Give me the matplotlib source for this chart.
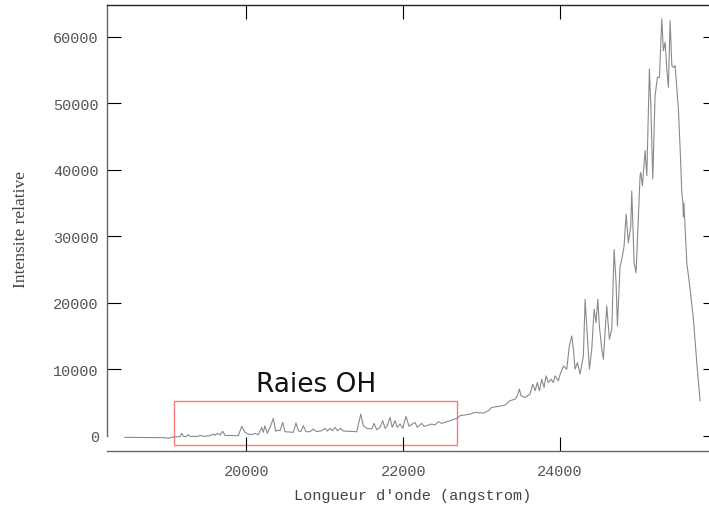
import matplotlib
matplotlib.use("Agg")
import matplotlib.pyplot as plt
from matplotlib.patches import Rectangle

# Wavelength (angstrom) and relative intensity
wavelength = [
    18450, 18960, 19000, 19067, 19152, 19174, 19194, 19228, 19258, 19279,
    19385, 19407, 19449, 19535, 19577, 19598, 19628, 19662, 19696, 19726,
    19895, 19939, 19981, 20023, 20066, 20109, 20151, 20194, 20214, 20236,
    20265, 20300, 20342, 20372, 20398, 20427, 20462, 20491,
    20597, 20631, 20661, 20691, 20725, 20759, 20810, 20852, 20895, 20959,
    21001, 21031, 21065, 21094, 21129, 21158, 21202, 21235, 21406, 21457,
    21490, 21533, 21597, 21626, 21661, 21703, 21737, 21767, 21796, 21830,
    21859, 21894, 21923, 21958, 21992, 22034, 22073, 22115, 22149, 22178,
    22234, 22264, 22298, 22362, 22404, 22446, 22490, 22596, 22681,
    22723, 22851, 22915, 23020, 23084, 23128, 23212, 23297, 23361, 23425,
    23454, 23480, 23501, 23552, 23616, 23650, 23680, 23709, 23735, 23765,
    23795, 23820, 23850, 23884, 23913, 23935, 23977,
    24000, 24042, 24084, 24117, 24148, 24169, 24190, 24220, 24254, 24296,
    24318, 24347, 24373, 24403, 24433, 24458, 24480, 24500, 24531, 24551,
    24594, 24628, 24658, 24688, 24713, 24730, 24764, 24786, 24815, 24841,
    24870, 24900, 24913, 24943, 24968, 24998, 25019,
    25028, 25049, 25083, 25105, 25138, 25156, 25181, 25210, 25240, 25266,
    25296, 25316, 25338, 25360, 25380, 25402, 25424, 25444, 25466, 25508,
    25530, 25551, 25565, 25572, 25578, 25615, 25657, 25699, 25742, 25784,
]
intensity = [
    -250, -300, -400, -200, -150, 350, -100, -150, 150, -100,
    -100, 50, -100, 0, 250, 50, 350, 100, 650, 50,
    0, 1400, 500, 250, 150, 350, 150, 1250, 500, 1500,
    350, 1250, 2600, 650, 850, 750, 2000, 600,
    500, 1900, 750, 600, 1500, 600, 600, 1000, 600, 750,
    1100, 700, 1100, 750, 1250, 750, 1100, 700, 600, 3250,
    1500, 1100, 1000, 1850, 900, 1250, 2250, 1100, 1500, 2750,
    1250, 2250, 1250, 1750, 1100, 2900, 1400, 1750, 2000, 1250,
    1850, 1400, 1500, 1750, 1600, 2100, 1850, 2250, 2600,
    3000, 3250, 3500, 3400, 3750, 4250, 4400, 4600, 5250, 5500,
    6000, 7000, 6000, 5750, 6250, 7750, 6750, 8000, 6750, 8500,
    7250, 9000, 8000, 8500, 8000, 9000, 8250,
    9250, 10500, 10000, 13500, 15000, 13000, 10000, 11000, 9250, 12000,
    20500, 15000, 10000, 13000, 19000, 17000, 20500, 16500, 13000, 11500,
    19500, 14500, 16000, 28000, 23000, 16500, 25500, 26500, 28500, 33300,
    29000, 31500, 36800, 26000, 24500, 33000, 39100,
    39600, 37600, 42900, 39100, 55150, 49600, 38600, 51100, 53900, 53900,
    62700, 57900, 59200, 55150, 52400, 62400, 55650, 55400, 55650, 49100,
    43100, 36600, 35000, 32900, 35000, 26000, 22050, 17550, 11000, 5250,
]

x_ticks = [20000, 22000, 24000]
y_ticks = [0, 10000, 20000, 30000, 40000, 50000, 60000]
x_limits = (18225, 26000)
y_limits = (-2350, 64780)

box_x = (19075, 22685)
box_y = (-1400, 5220)
box_label = "Raies OH"
label_pos = (20890, 6700)

x_title = "Longueur d'onde (angstrom)"
y_title = "Intensite relative"

fig = plt.figure(figsize=(7.09, 5.06), dpi=100)
ax = fig.add_axes([107.3 / 709, 1 - 452.3 / 506, 609.7 / 709, 446.3 / 506])

ax.plot(wavelength, intensity, color="#8a8a8a", lw=0.8)

ax.add_patch(Rectangle((box_x[0], box_y[0]), box_x[1] - box_x[0], box_y[1] - box_y[0],
                       fill=False, edgecolor="#ff7a7a", lw=1.0))
ax.text(label_pos[0], label_pos[1], box_label, ha="center", va="baseline",
        fontsize=19, family="DejaVu Sans", color="#111111")

ax.set_xlim(*x_limits)
ax.set_ylim(*y_limits)
ax.set_xticks(x_ticks)
ax.set_yticks(y_ticks)
ax.set_xticklabels([str(v) for v in x_ticks])
ax.set_yticklabels([str(v) for v in y_ticks])

ax.tick_params(direction="in", length=10, width=0.8, color="black",
               top=True, right=True, labelcolor="#555555", labelsize=11)
ax.tick_params(axis="x", pad=9)
ax.tick_params(axis="y", pad=6)
for lab in ax.get_xticklabels() + ax.get_yticklabels():
    lab.set_family("Liberation Mono")

# left axis starts at zero as in the reference
ax.spines["left"].set_bounds(0, y_limits[1])
ax.yaxis.get_major_ticks()[0].tick1line.set_visible(False)
for side in ["left", "bottom", "right"]:
    ax.spines[side].set_color("#666666")
    ax.spines[side].set_linewidth(1.0)
ax.spines["top"].set_color("#222222")
ax.spines["top"].set_linewidth(1.0)

ax.set_xlabel(x_title, family="Liberation Mono", fontsize=11, color="#444444", labelpad=7)
fig.text(21 / 709, 1 - 230 / 506, y_title, rotation=90, ha="center", va="center",
         family="Liberation Serif", fontsize=12.5, color="#444444")

fig.savefig("out.png", dpi=100)
